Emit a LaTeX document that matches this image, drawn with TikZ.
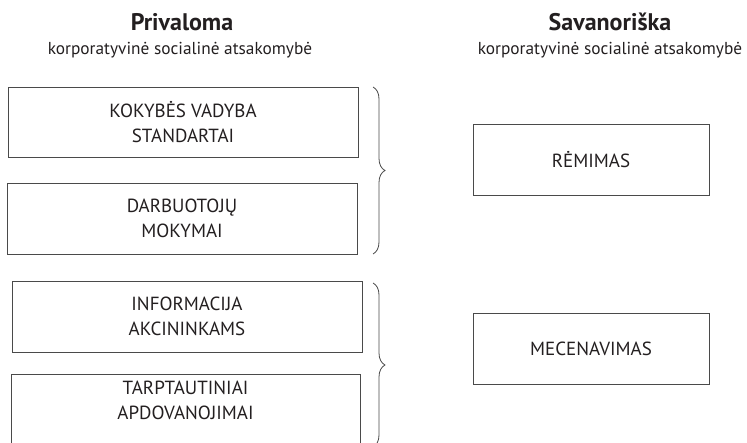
\documentclass[tikz,border=0pt]{standalone}
\usepackage{fontspec}
\setmainfont{PT Sans}
\usetikzlibrary{decorations.pathreplacing}
\definecolor{ink}{HTML}{231F20}
\definecolor{frame}{HTML}{4A4A4A}

\begin{document}
\begin{tikzpicture}[x=1pt,y=-1pt,
box/.style={draw=frame, line width=0.9pt, minimum width=350, minimum height=71, inner sep=0pt, text=ink, align=center, font=\fontsize{19}{24.5}\selectfont},
small/.style={box, minimum width=236},
txt/.style={text=ink, align=center, font=\fontsize{19}{24.5}\selectfont},
head/.style={text=ink, font=\fontsize{24}{28}\selectfont\bfseries},
sub/.style={text=ink, font=\fontsize{17.3}{20}\selectfont},
brc/.style={draw=frame, line width=0.8pt, decorate, decoration={brace, amplitude=12}}]
\useasboundingbox (0,0) rectangle (747,443);
\clip (0,0) rectangle (747,443);

% headings
\node[head] (priv) at (182,22) {Privaloma};
\node[sub] (privsub) at (180,50) {korporatyvinė socialinė atsakomybė};
\node[head] (sav) at (610,22) {Savanoriška};
\node[sub] (savsub) at (610,50) {korporatyvinė socialinė atsakomybė};

% left column
\node[box, minimum height=70] (kokybe) at (183,122) {KOKYBĖS VADYBA\\STANDARTAI};
\node[box] (mokymai) at (182,218.5) {DARBUOTOJŲ\\MOKYMAI};
\node[box] (info) at (187,316.5) {INFORMACIJA\\AKCININKAMS};
\node[box, minimum width=349, minimum height=72] (apdov) at (185.5,410) {};
\node[txt] (apdovtxt) at (185.5,400.5) {TARPTAUTINIAI\\APDOVANOJIMAI};

% braces
\coordinate (b1a) at (373,87);
\coordinate (b1b) at (373,254);
\coordinate (b2a) at (373,283);
\coordinate (b2b) at (373,447);
\draw[brc] (b1a) -- (b1b);
\draw[brc] (b2a) -- (b2b);

% right column
\node[small] (remimas) at (591,159.5) {RĖMIMAS};
\node[small] (mecen) at (591,348.5) {MECENAVIMAS};
\end{tikzpicture}
\end{document}
